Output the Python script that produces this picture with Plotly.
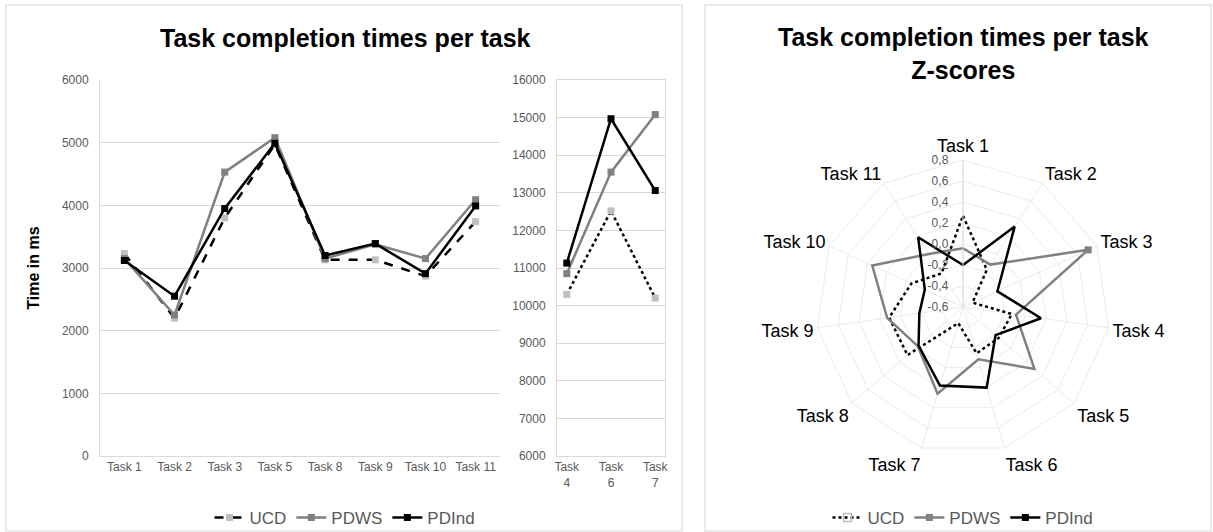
import plotly.graph_objects as go

W, H = 1213, 532

# left chart: tasks with times below 6000 ms
tasksMain = ["Task 1", "Task 2", "Task 3", "Task 5", "Task 8", "Task 9", "Task 10", "Task 11"]
ucdMain = [3230, 2200, 3800, 4970, 3130, 3130, 2870, 3740]
pdwsMain = [3150, 2250, 4530, 5080, 3150, 3380, 3150, 4090]
pdindMain = [3120, 2550, 3950, 4990, 3200, 3390, 2910, 3990]

# small chart: long tasks
tasksLong = ["Task<br>4", "Task<br>6", "Task<br>7"]
ucdLong = [10300, 12520, 10200]
pdwsLong = [10850, 13550, 15080]
pdindLong = [11130, 14970, 13060]

# radar: z-scores
tasksRadar = ["Task 1", "Task 2", "Task 3", "Task 4", "Task 5", "Task 6",
              "Task 7", "Task 8", "Task 9", "Task 10", "Task 11"]
ucdZ = [0.27, -0.18, -0.50, -0.13, -0.15, -0.14, -0.44, 0.10, 0.11, -0.06, -0.22]
pdwsZ = [-0.04, -0.12, 0.71, -0.09, 0.30, -0.08, 0.26, -0.03, 0.13, 0.35, 0.00]
pdindZ = [-0.20, 0.31, -0.24, 0.15, -0.19, 0.20, 0.18, -0.04, -0.18, -0.20, 0.19]
radialTicks = [0.8, 0.6, 0.4, 0.2, 0.0, -0.2, -0.4, -0.6]


def px(x):
    return x / W


def py(y):
    return 1 - y / H


FONT = "Liberation Sans, Arial, sans-serif"
TXT = "#595959"
GRID = "#d9d9d9"
LGRAY = "#bfbfbf"
MGRAY = "#808080"

fig = go.Figure()

# --- left main chart
fig.add_trace(go.Scatter(x=tasksMain, y=ucdMain, name="UCD", mode="lines+markers",
                         line=dict(color="black", width=2.5, dash="dash"),
                         marker=dict(symbol="square", size=7, color=LGRAY),
                         xaxis="x", yaxis="y", legend="legend"))
fig.add_trace(go.Scatter(x=tasksMain, y=pdwsMain, name="PDWS", mode="lines+markers",
                         line=dict(color=MGRAY, width=2.5),
                         marker=dict(symbol="square", size=7, color=MGRAY),
                         xaxis="x", yaxis="y", legend="legend"))
fig.add_trace(go.Scatter(x=tasksMain, y=pdindMain, name="PDInd", mode="lines+markers",
                         line=dict(color="black", width=2.5),
                         marker=dict(symbol="square", size=7, color="black"),
                         xaxis="x", yaxis="y", legend="legend"))

# --- small chart
fig.add_trace(go.Scatter(x=tasksLong, y=ucdLong, name="UCD", mode="lines+markers",
                         line=dict(color="black", width=2.5, dash="dot"),
                         marker=dict(symbol="square", size=7, color=LGRAY),
                         xaxis="x2", yaxis="y2", showlegend=False))
fig.add_trace(go.Scatter(x=tasksLong, y=pdwsLong, name="PDWS", mode="lines+markers",
                         line=dict(color=MGRAY, width=2.5),
                         marker=dict(symbol="square", size=7, color=MGRAY),
                         xaxis="x2", yaxis="y2", showlegend=False))
fig.add_trace(go.Scatter(x=tasksLong, y=pdindLong, name="PDInd", mode="lines+markers",
                         line=dict(color="black", width=2.5),
                         marker=dict(symbol="square", size=7, color="black"),
                         xaxis="x2", yaxis="y2", showlegend=False))

# --- radar
def closed(v):
    return list(v) + [v[0]]

fig.add_trace(go.Scatterpolar(r=closed(ucdZ), theta=closed(tasksRadar), name="UCD",
                              mode="lines+markers",
                              line=dict(color="black", width=2.5, dash="dot"),
                              marker=dict(symbol="square-open", size=8, color=LGRAY,
                                          line=dict(width=1.5)),
                              legend="legend2"))
fig.add_trace(go.Scatterpolar(r=closed(pdwsZ), theta=closed(tasksRadar), name="PDWS",
                              mode="lines+markers",
                              line=dict(color=MGRAY, width=2.5),
                              marker=dict(symbol="square", size=7, color=MGRAY),
                              legend="legend2"))
fig.add_trace(go.Scatterpolar(r=closed(pdindZ), theta=closed(tasksRadar), name="PDInd",
                              mode="lines+markers",
                              line=dict(color="black", width=2.5),
                              marker=dict(symbol="square", size=7, color="black"),
                              legend="legend2"))

yTop, yBot = 80, 456
nb = "\u00a0" * 3

fig.update_layout(
    width=W, height=H,
    margin=dict(l=0, r=0, t=0, b=0, autoexpand=False),
    paper_bgcolor="white", plot_bgcolor="white",
    font=dict(family=FONT, color=TXT, size=12),
    separators=",.",
    xaxis=dict(domain=[px(100), px(500)], type="category", showgrid=False,
               showline=True, linecolor=GRID, ticks="", tickfont=dict(size=12, color=TXT),
               fixedrange=True),
    yaxis=dict(domain=[py(yBot), py(yTop)], range=[0, 6000], dtick=1000,
               tickformat="d",
               showgrid=True, gridcolor=GRID, showline=True, linecolor=GRID,
               zeroline=False, tickfont=dict(size=12, color=TXT), ticks="",
               ticklabelstandoff=8,
               title=dict(text="<b>Time in ms</b>", font=dict(size=16, color="black"),
                          standoff=18)),
    xaxis2=dict(domain=[px(557), px(665)], type="category", showgrid=False,
                showline=True, mirror=True, linecolor=GRID, ticks="",
                tickfont=dict(size=12, color=TXT), anchor="y2"),
    yaxis2=dict(domain=[py(yBot), py(yTop)], range=[6000, 16000], dtick=1000,
                tickformat="d",
                showgrid=True, gridcolor=GRID, showline=True, mirror=True,
                linecolor=GRID, zeroline=False, tickfont=dict(size=12, color=TXT),
                ticks="", ticklabelstandoff=8, anchor="x2"),
    polar=dict(
        domain=dict(x=[px(816), px(1110)], y=[py(454), py(160)]),
        bgcolor="white",
        gridshape="linear",
        radialaxis=dict(range=[-0.6, 0.8], tickvals=radialTicks,
                        ticktext=[("%.1f" % v).replace(".", ",") + nb for v in radialTicks],
                        angle=90, tickangle=90, side="counterclockwise",
                        showline=True, linecolor=GRID, gridcolor="#ebebeb",
                        tickfont=dict(size=12, color=TXT), ticks=""),
        angularaxis=dict(rotation=90, direction="clockwise", gridcolor="#ebebeb",
                         linecolor="#ebebeb", tickfont=dict(size=18, color="black"),
                         ticks=""),
    ),
    legend=dict(orientation="h", x=px(345), xanchor="center", y=py(518),
                yanchor="middle", font=dict(size=17, color=TXT), itemwidth=30,
                bgcolor="rgba(0,0,0,0)"),
    legend2=dict(orientation="h", x=px(963), xanchor="center", y=py(518),
                 yanchor="middle", font=dict(size=17, color=TXT), itemwidth=30,
                 bgcolor="rgba(0,0,0,0)"),
    showlegend=True,
)

# titles
fig.add_annotation(x=px(345), y=py(38), xref="paper", yref="paper", showarrow=False,
                   xanchor="center", yanchor="middle",
                   text="<b>Task completion times per task</b>",
                   font=dict(size=25, color="black"))
fig.add_annotation(x=px(963), y=py(53), xref="paper", yref="paper", showarrow=False,
                   xanchor="center", yanchor="middle",
                   text="<b>Task completion times per task<br>Z-scores</b>",
                   font=dict(size=25, color="black"))

# panel borders
for x0, x1 in [(6, 682), (705, 1211)]:
    fig.add_shape(type="rect", xref="paper", yref="paper",
                  x0=px(x0), x1=px(x1), y0=py(531), y1=py(5),
                  line=dict(color="#e3e3e3", width=1.5), fillcolor="rgba(0,0,0,0)",
                  layer="below")

fig.write_html("out.html", config={"displayModeBar": False},
               post_script="document.body.style.margin='0';")
